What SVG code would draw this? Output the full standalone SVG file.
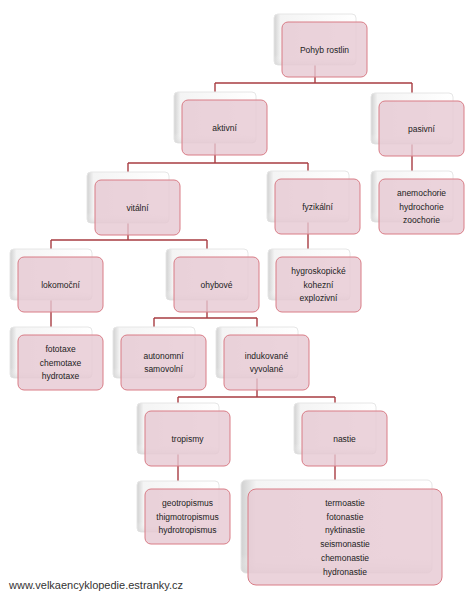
<svg xmlns="http://www.w3.org/2000/svg" width="472" height="600" viewBox="0 0 472 600">
<defs>
<linearGradient id="sh" x1="0" y1="0" x2="1" y2="0">
<stop offset="0" stop-color="#d0d0d0"/>
<stop offset="0.08" stop-color="#f4f4f4"/>
<stop offset="1" stop-color="#ffffff"/>
</linearGradient>
<linearGradient id="shb" x1="0" y1="0" x2="0" y2="1">
<stop offset="0.8" stop-color="#ffffff" stop-opacity="0"/>
<stop offset="1" stop-color="#d6d6d6" stop-opacity="0.6"/>
</linearGradient>
</defs>
<style>
.sh{fill:url(#sh);stroke:#e6e6e6;stroke-width:1}
.shb{fill:url(#shb);stroke:none}
.bx{fill:#e6c8d2;fill-opacity:0.8;stroke:#d97c86;stroke-width:1}
.t{font-family:"Liberation Sans",Arial,sans-serif;font-size:8.5px;fill:#222;text-anchor:middle}
.c{fill:none;stroke:#a83c42;stroke-width:1.4}
.f{font-family:"Liberation Sans",Arial,sans-serif;font-size:11px;fill:#333}
</style>
<rect width="472" height="600" fill="#ffffff"/>
<g id="connectors">
<path class="c" d="M315,65 V83 M215,83 H412 M215,83 V92 M412,83 V93"/>
<path class="c" d="M215,142 V163 M128,163 H308 M128,163 V172 M308,163 V171"/>
<path class="c" d="M412,143 V171"/>
<path class="c" d="M128,223 V240 M51,240 H207 M51,240 V249 M207,240 V249"/>
<path class="c" d="M308,222 V249"/>
<path class="c" d="M51,300 V327"/>
<path class="c" d="M207,300 V318 M154,318 H257 M154,318 V327 M257,318 V327"/>
<path class="c" d="M257,378 V397 M178,397 H335 M178,397 V403 M335,397 V403"/>
<path class="c" d="M178,454 V481"/>
<path class="c" d="M335,454 V480"/>
</g>
<g id="pohyb">
<rect class="sh" x="274" y="14" width="82" height="51" rx="4"/><rect class="shb" x="274" y="14" width="82" height="51" rx="4"/>
<rect class="bx" x="282" y="22" width="85" height="55" rx="6"/>
<text class="t" x="324.5" y="52.5">Pohyb rostlin</text>
</g>
<g id="aktivni">
<rect class="sh" x="174" y="92" width="82" height="51" rx="4"/><rect class="shb" x="174" y="92" width="82" height="51" rx="4"/>
<rect class="bx" x="182" y="100" width="85" height="55" rx="6"/>
<text class="t" x="224.5" y="130.5">aktivní</text>
</g>
<g id="pasivni">
<rect class="sh" x="371" y="93" width="82" height="51" rx="4"/><rect class="shb" x="371" y="93" width="82" height="51" rx="4"/>
<rect class="bx" x="379" y="101" width="85" height="55" rx="6"/>
<text class="t" x="421.5" y="131.5">pasivní</text>
</g>
<g id="vitalni">
<rect class="sh" x="87" y="172" width="82" height="51" rx="4"/><rect class="shb" x="87" y="172" width="82" height="51" rx="4"/>
<rect class="bx" x="95" y="180" width="85" height="55" rx="6"/>
<text class="t" x="137.5" y="210.5">vitální</text>
</g>
<g id="fyzikalni">
<rect class="sh" x="267" y="171" width="82" height="51" rx="4"/><rect class="shb" x="267" y="171" width="82" height="51" rx="4"/>
<rect class="bx" x="275" y="179" width="85" height="55" rx="6"/>
<text class="t" x="317.5" y="209.5">fyzikální</text>
</g>
<g id="pasivni-druhy">
<rect class="sh" x="371" y="171" width="82" height="51" rx="4"/><rect class="shb" x="371" y="171" width="82" height="51" rx="4"/>
<rect class="bx" x="379" y="179" width="85" height="55" rx="6"/>
<text class="t" x="421.5" y="196">anemochorie</text>
<text class="t" x="421.5" y="209.5">hydrochorie</text>
<text class="t" x="421.5" y="223">zoochorie</text>
</g>
<g id="lokomocni">
<rect class="sh" x="10" y="249" width="82" height="51" rx="4"/><rect class="shb" x="10" y="249" width="82" height="51" rx="4"/>
<rect class="bx" x="18" y="257" width="85" height="55" rx="6"/>
<text class="t" x="60.5" y="287.5">lokomoční</text>
</g>
<g id="ohybove">
<rect class="sh" x="166" y="249" width="82" height="51" rx="4"/><rect class="shb" x="166" y="249" width="82" height="51" rx="4"/>
<rect class="bx" x="174" y="257" width="85" height="55" rx="6"/>
<text class="t" x="216.5" y="287.5">ohybové</text>
</g>
<g id="fyzikalni-druhy">
<rect class="sh" x="268" y="249" width="82" height="51" rx="4"/><rect class="shb" x="268" y="249" width="82" height="51" rx="4"/>
<rect class="bx" x="276" y="257" width="85" height="55" rx="6"/>
<text class="t" x="318.5" y="274">hygroskopické</text>
<text class="t" x="318.5" y="287.5">kohezní</text>
<text class="t" x="318.5" y="301">explozivní</text>
</g>
<g id="taxe">
<rect class="sh" x="10" y="327" width="82" height="51" rx="4"/><rect class="shb" x="10" y="327" width="82" height="51" rx="4"/>
<rect class="bx" x="18" y="335" width="85" height="55" rx="6"/>
<text class="t" x="60.5" y="352">fototaxe</text>
<text class="t" x="60.5" y="365.5">chemotaxe</text>
<text class="t" x="60.5" y="379">hydrotaxe</text>
</g>
<g id="autonomni">
<rect class="sh" x="113" y="327" width="82" height="51" rx="4"/><rect class="shb" x="113" y="327" width="82" height="51" rx="4"/>
<rect class="bx" x="121" y="335" width="85" height="55" rx="6"/>
<text class="t" x="163.5" y="358.5">autonomní</text>
<text class="t" x="163.5" y="372">samovolní</text>
</g>
<g id="indukovane">
<rect class="sh" x="216" y="327" width="82" height="51" rx="4"/><rect class="shb" x="216" y="327" width="82" height="51" rx="4"/>
<rect class="bx" x="224" y="335" width="85" height="55" rx="6"/>
<text class="t" x="266.5" y="358.5">indukované</text>
<text class="t" x="266.5" y="372">vyvolané</text>
</g>
<g id="tropismy">
<rect class="sh" x="137" y="403" width="82" height="51" rx="4"/><rect class="shb" x="137" y="403" width="82" height="51" rx="4"/>
<rect class="bx" x="145" y="411" width="85" height="55" rx="6"/>
<text class="t" x="187.5" y="441.5">tropismy</text>
</g>
<g id="nastie">
<rect class="sh" x="294" y="403" width="82" height="51" rx="4"/><rect class="shb" x="294" y="403" width="82" height="51" rx="4"/>
<rect class="bx" x="302" y="411" width="85" height="55" rx="6"/>
<text class="t" x="344.5" y="441.5">nastie</text>
</g>
<g id="tropismy-druhy">
<rect class="sh" x="137" y="481" width="82" height="51" rx="4"/><rect class="shb" x="137" y="481" width="82" height="51" rx="4"/>
<rect class="bx" x="145" y="489" width="85" height="55" rx="6"/>
<text class="t" x="187.5" y="506">geotropismus</text>
<text class="t" x="187.5" y="519.5">thigmotropismus</text>
<text class="t" x="187.5" y="533">hydrotropismus</text>
</g>
<g id="nastie-druhy">
<rect class="sh" x="241" y="480" width="191" height="93" rx="5"/><rect class="shb" x="241" y="480" width="191" height="93" rx="5"/>
<rect class="bx" x="248" y="489" width="194" height="96" rx="8"/>
<text class="t" x="345" y="506">termoastie</text>
<text class="t" x="345" y="519.7">fotonastie</text>
<text class="t" x="345" y="533.4">nyktinastie</text>
<text class="t" x="345" y="547.1">seismonastie</text>
<text class="t" x="345" y="560.8">chemonastie</text>
<text class="t" x="345" y="574.5">hydronastie</text>
</g>
<text class="f" x="9" y="589">www.velkaencyklopedie.estranky.cz</text>
</svg>
